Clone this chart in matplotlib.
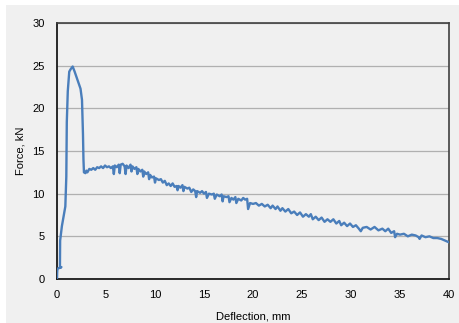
import matplotlib
matplotlib.use("Agg")
import matplotlib.pyplot as plt
from matplotlib.patches import Rectangle

plt.rcParams['font.family'] = ['Liberation Sans', 'DejaVu Sans']

# Loading ramp and peak
rise_x = [0, 0.02, 0.05, 0.45, 0.3, 0.32, 0.5, 0.7, 0.85, 0.95, 1.0, 1.1, 1.25, 1.4, 1.6,
          1.8, 2.1, 2.4, 2.55, 2.65, 2.7, 2.75]
rise_y = [0, 0.8, 1.2, 1.4, 1.3, 4.5, 6.2, 7.5, 8.5, 12.0, 18.4, 22.0, 24.3, 24.6, 24.9,
          24.3, 23.3, 22.3, 21.0, 17.0, 14.0, 12.5]

# Post-peak residual behaviour
post_x = [2.9, 3.0, 3.1, 3.3, 3.5, 3.7, 3.9, 4.1, 4.3, 4.5, 4.7, 4.9, 5.1, 5.3, 5.5, 5.7, 5.8, 5.9,
          6.1, 6.3, 6.4, 6.5, 6.7, 6.9, 7.0, 7.1, 7.3, 7.5, 7.6, 7.7, 7.9, 8.1, 8.2, 8.3, 8.5, 8.7,
          8.8, 8.9, 9.1, 9.3, 9.4, 9.5, 9.7, 9.9, 10.0, 10.1, 10.4, 10.6, 10.8, 11.0, 11.2, 11.4,
          11.6, 11.8, 12.0, 12.2, 12.3, 12.4, 12.6, 12.8, 12.9, 13.0, 13.3, 13.5, 13.7, 13.9, 14.1,
          14.2, 14.3, 14.6, 14.8, 15.0, 15.2, 15.3, 15.5, 15.8, 16.0, 16.1, 16.3, 16.6, 16.8, 16.9,
          17.0, 17.3, 17.5, 17.6, 17.8, 18.0, 18.2, 18.3, 18.5, 18.8, 19.0, 19.2, 19.4, 19.5, 19.7,
          20.0, 20.3, 20.6, 20.9, 21.2, 21.5, 21.8, 22.0, 22.3, 22.5, 22.8, 23.0, 23.3, 23.6, 23.9,
          24.2, 24.5, 24.8, 25.1, 25.4, 25.7, 25.9, 26.1, 26.4, 26.7, 27.0, 27.3, 27.6, 27.9, 28.2,
          28.5, 28.8, 29.0, 29.3, 29.6, 29.9, 30.2, 30.5, 30.8, 31.0, 31.2, 31.6, 32.0, 32.4, 32.8,
          33.2, 33.5, 33.8, 34.1, 34.4, 34.5, 34.7, 35.0, 35.4, 35.8, 36.2, 36.6, 36.9, 37.0, 37.2,
          37.6, 38.0, 38.4, 38.8, 39.2, 39.6, 40.0]
post_y = [12.4, 12.7, 12.5, 12.9, 12.8, 13.0, 12.8, 13.1, 13.0, 13.2, 13.0, 13.3, 13.1, 13.2, 13.0,
          13.2, 12.3, 13.3, 13.1, 13.4, 12.4, 13.4, 13.5, 13.2, 12.3, 13.3, 13.0, 13.4, 12.6, 13.2,
          12.9, 13.1, 12.3, 12.9, 12.6, 12.8, 12.0, 12.6, 12.3, 12.5, 11.7, 12.2, 11.9, 12.0, 11.3,
          11.8, 11.6, 11.7, 11.3, 11.5, 11.0, 11.2, 10.9, 11.2, 10.8, 10.9, 10.4, 10.9, 10.7, 11.0,
          10.3, 10.8, 10.6, 10.7, 10.2, 10.5, 10.3, 9.6, 10.3, 10.1, 10.3, 10.0, 10.2, 9.5, 10.0,
          9.9, 10.0, 9.4, 9.9, 9.7, 9.9, 9.1, 9.7, 9.6, 9.7, 9.0, 9.5, 9.3, 9.6, 8.9, 9.4, 9.2,
          9.5, 9.3, 9.4, 8.2, 8.9, 8.8, 8.9, 8.6, 8.8, 8.5, 8.7, 8.3, 8.6, 8.2, 8.5, 8.0, 8.3, 7.9,
          8.2, 7.7, 7.9, 7.5, 7.8, 7.3, 7.6, 7.3, 7.6, 7.0, 7.3, 6.9, 7.2, 6.7, 7.0, 6.7, 7.0, 6.5,
          6.8, 6.3, 6.6, 6.2, 6.5, 6.1, 6.3, 5.9, 5.6, 6.0, 6.1, 5.8, 6.1, 5.7, 5.9, 5.6, 5.9, 5.4,
          5.6, 4.9, 5.3, 5.2, 5.3, 5.0, 5.2, 5.1, 4.9, 4.7, 5.1, 4.9, 5.0, 4.8, 4.8, 4.7, 4.5, 4.3]

deflection = rise_x + post_x
force = rise_y + post_y

x_ticks = [0, 5, 10, 15, 20, 25, 30, 35, 40]
y_ticks = [0, 5, 10, 15, 20, 25, 30]

bg = '#f0f0f0'
fig = plt.figure(figsize=(4.60, 3.23), dpi=100)
fig.patch.set_facecolor('white')
bgrect = Rectangle((6 / 460, 0), 1 - 6 / 460, 1 - 5 / 323, transform=fig.transFigure,
                   facecolor=bg, edgecolor='none', zorder=-10)
fig.add_artist(bgrect)

ax = fig.add_axes([57 / 460, 1 - 279 / 323, (449 - 57) / 460, (279 - 23) / 323])
ax.set_zorder(5)
ax.set_facecolor(bg)
ax.plot(deflection, force, color='#4a7ebb', lw=1.7, solid_joinstyle='round', zorder=3)

ax.set_xlim(0, 40)
ax.set_ylim(0, 30)
ax.set_xticks(x_ticks)
ax.set_yticks(y_ticks)
ax.tick_params(axis='both', length=0, labelsize=8, colors='#000000')
ax.tick_params(axis='y', pad=9)
ax.tick_params(axis='x', pad=8)
ax.yaxis.grid(True, color='#b0b0b0', lw=0.9)
ax.set_axisbelow(True)

for s in ['left', 'bottom']:
    ax.spines[s].set_color('#1a1a1a')
    ax.spines[s].set_linewidth(1.3)
for s in ['top', 'right']:
    ax.spines[s].set_color('#404040')
    ax.spines[s].set_linewidth(1.2)

ax.set_xlabel('Deflection, mm', fontsize=8, labelpad=8)
ax.set_ylabel('Force, kN', fontsize=8, labelpad=5)

fig.savefig('out.png', dpi=100, facecolor=fig.get_facecolor())
